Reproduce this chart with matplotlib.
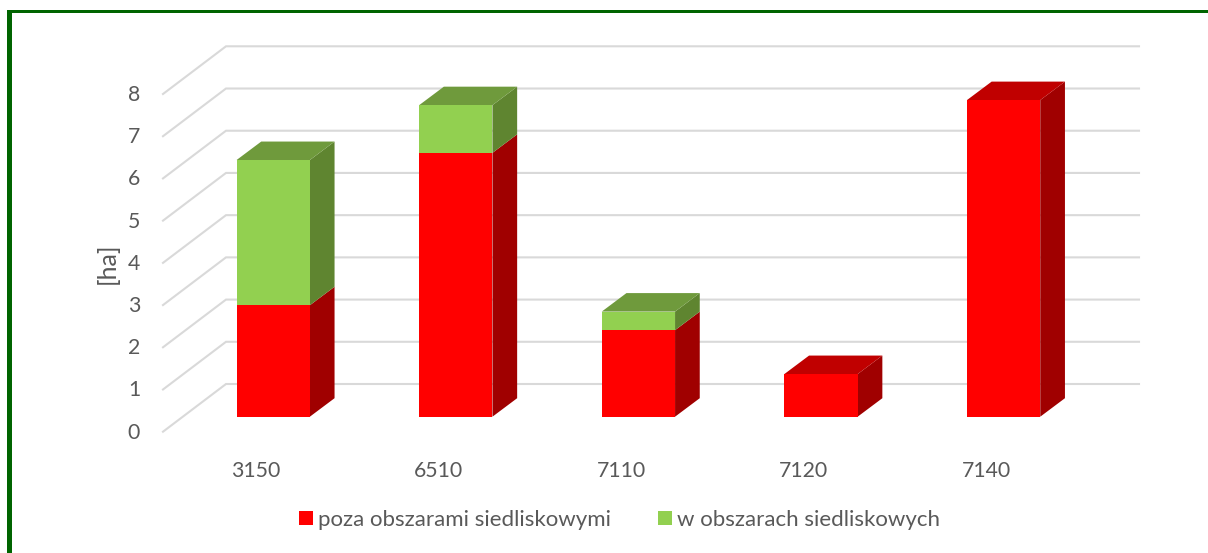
import matplotlib
matplotlib.use("Agg")
import matplotlib.pyplot as plt
import numpy as np
from matplotlib.patches import Patch, Polygon, Rectangle
from matplotlib.transforms import Affine2D

categories = ["3150", "6510", "7110", "7120", "7140"]
outside_habitat = [2.64, 6.25, 2.05, 1.01, 7.50]
inside_habitat = [3.44, 1.13, 0.44, 0.0, 0.0]
yticks = [0, 1, 2, 3, 4, 5, 6, 7, 8]
series_names = ["poza obszarami siedliskowymi", "w obszarach siedliskowych"]
ylabel = "[ha]"

W, H = 1208, 553
plt.rcParams["font.family"] = ["Lato", "DejaVu Sans"]
TXT = "#595959"
GRID = "#D9D9D9"
RED = ("#FF0000", "#C00000", "#A00000")
GREEN = ("#92D050", "#6F9A3C", "#5F8530")
FONT = 15.3

fig = plt.figure(figsize=(W / 100, H / 100), dpi=100, facecolor="white")
L, R, T, B = 163, 1076, 94, 431.7
ax = fig.add_axes([L / W, 1 - B / H, (R - L) / W, (B - T) / H])
ax.set_xlim(-0.5, 4.5)
ax.set_ylim(0, 8)
ax.patch.set_visible(False)
for s in ax.spines.values():
    s.set_visible(False)

ux = (R - L) / 5      # px per category
uy = (B - T) / 8      # px per unit
wall_x, wall_y = 63 / ux, 47.7 / uy
off_x, off_y = 18.9 / ux, 15.0 / uy
dep_x, dep_y = 24.7 / ux, 18.5 / uy
bw = 73.3 / ux

for v in yticks:
    ax.plot([-0.5, -0.5 + wall_x, 4.5 + wall_x], [v, v + wall_y, v + wall_y],
            color=GRID, lw=1.5, clip_on=False, zorder=1, solid_joinstyle="miter")


def box(x, bottom, height, cols, top_face=True):
    x0, x1 = x + off_x - bw / 2, x + off_x + bw / 2
    y0, y1 = bottom + off_y, bottom + height + off_y
    ax.add_patch(Polygon([(x1, y0), (x1 + dep_x, y0 + dep_y), (x1 + dep_x, y1 + dep_y), (x1, y1)],
                         fc=cols[2], ec="none", clip_on=False, zorder=3))
    if top_face:
        ax.add_patch(Polygon([(x0, y1), (x1, y1), (x1 + dep_x, y1 + dep_y), (x0 + dep_x, y1 + dep_y)],
                             fc=cols[1], ec="none", clip_on=False, zorder=3))
    ax.add_patch(Rectangle((x0, y0), x1 - x0, y1 - y0, fc=cols[0], ec="none",
                           clip_on=False, zorder=4))


xs = np.arange(len(categories))
for x, a, b in zip(xs, outside_habitat, inside_habitat):
    box(x, 0, a, RED, top_face=b == 0)
    if b > 0:
        box(x, a, b, GREEN)

ax.set_xticks(xs, categories)
ax.set_yticks(yticks)
ax.tick_params(axis="both", length=0, labelsize=FONT, labelcolor=TXT)
ax.tick_params(axis="x", pad=21)
ax.tick_params(axis="y", pad=16.5)
for t in ax.get_xticklabels():
    t.set_transform(t.get_transform() + Affine2D().translate(1.5, 0))
for t in ax.get_yticklabels():
    t.set_verticalalignment("center")
    t.set_transform(t.get_transform() + Affine2D().translate(0, -1))

fig.text(107 / W, 1 - 263 / H, ylabel, rotation=90, ha="center", va="center",
         fontsize=18, color=TXT)

# outer frame: only top and left edges are visible
fig.add_artist(Rectangle((7 / W, 0), 5 / W, 1 - 10 / H, transform=fig.transFigure,
                         fc="#006400", ec="none"))
fig.add_artist(Rectangle((7 / W, 1 - 13 / H), 1 - 7 / W, 3 / H, transform=fig.transFigure,
                         fc="#006400", ec="none"))

handles = [Patch(fc=RED[0], ec="none"), Patch(fc=GREEN[0], ec="none")]
fig.legend(handles, series_names, loc="center", bbox_to_anchor=(619.5 / W, 1 - 520 / H),
           ncol=2, frameon=False, fontsize=16, labelcolor=TXT, borderpad=0,
           borderaxespad=0, handlelength=0.63, handleheight=0.63, handletextpad=0.22,
           columnspacing=2.12)

fig.savefig("out.png", dpi=100, facecolor="white")
